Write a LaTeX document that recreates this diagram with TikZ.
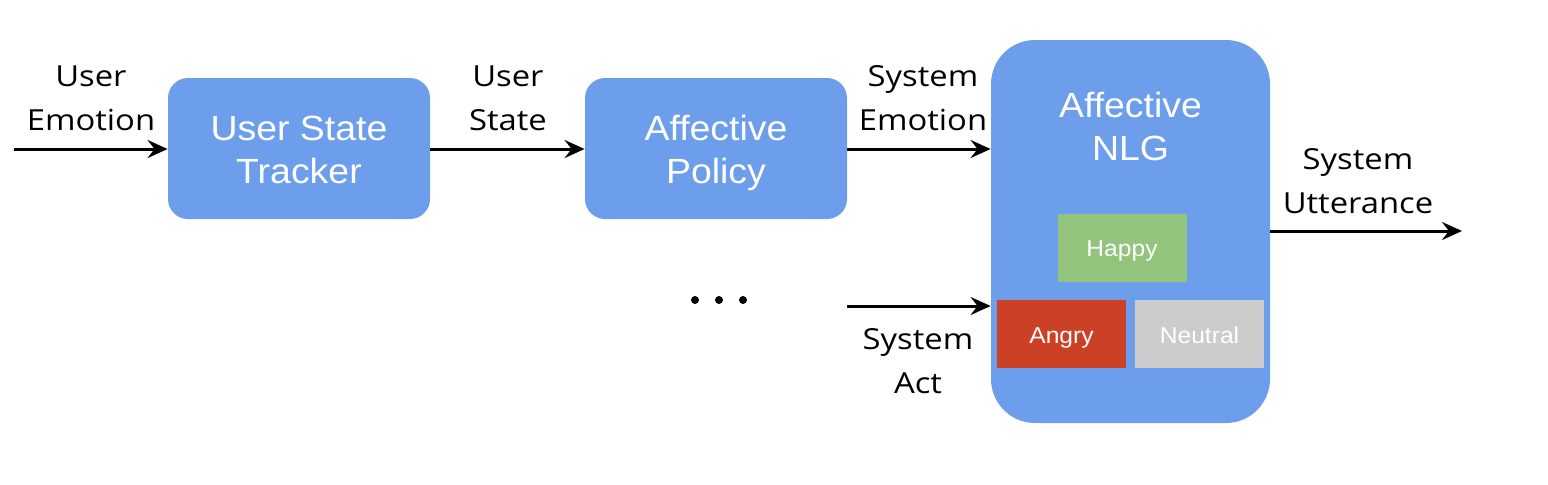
\documentclass[tikz,border=0pt]{standalone}
\usepackage{fontspec}
\setmainfont{Open Sans}
\newfontfamily\lblfont[FakeStretch=1.13]{Open Sans}
\newfontfamily\boxfont[FakeStretch=1.07]{Liberation Sans}
\usetikzlibrary{positioning, arrows.meta}
\definecolor{nlgblue}{HTML}{6D9EEB}
\definecolor{happygreen}{HTML}{93C47D}
\definecolor{angryred}{HTML}{CC4125}
\definecolor{neutralgray}{HTML}{CCCCCC}
\newcommand\mstrut{\rule[-3.9pt]{0pt}{21.4pt}}
\newcommand\estrut{\rule[-2.9pt]{0pt}{14.9pt}}
\tikzset{
  module/.style={rounded corners=10pt, fill=nlgblue, text=white, align=center,
    font=\boxfont\fontsize{17.5}{21.5}\selectfont, inner sep=0pt},
  emo/.style={text=white, align=center, inner sep=0pt, minimum width=64.5pt,
    minimum height=34pt, font=\boxfont\fontsize{11.5}{14}\selectfont},
  lbl/.style={align=center, font=\lblfont\fontsize{14.5}{22}\selectfont, inner sep=0pt},
  flow/.style={line width=1.5pt, -{Stealth[length=10pt, width=9pt, inset=3.5pt]}},
}
\begin{document}
\begin{tikzpicture}[x=0.5pt, y=-0.5pt]
  \useasboundingbox (0,0) rectangle (1548,484);

  % modules
  \node[module, minimum width=131pt, minimum height=70.5pt] (ust) at (299,148.5) {\mstrut User State\\\mstrut Tracker};
  \node[module, minimum width=131pt, minimum height=70.5pt] (pol) at (716,148.5) {\mstrut Affective\\\mstrut Policy};
  \node[module, rounded corners=22pt, minimum width=139.5pt, minimum height=191.5pt] (nlg) at (1130.5,231.5) {};
  \node[module] (nlgtext) at (1130.5,125.5) {\mstrut Affective\\\mstrut NLG};

  % emotions inside the generator
  \node[emo, fill=happygreen] (happy) at (1122,247.5) {\estrut Happy};
  \node[emo, fill=angryred] (angry) at (1061.5,334) {\estrut Angry};
  \node[emo, fill=neutralgray] (neutral) at (1199.5,334) {\estrut Neutral};

  % free ends
  \coordinate (uein) at (14,149);
  \coordinate (actin) at (847,306);
  \coordinate (uttout) at (1462,231);

  % flows
  \draw[flow] (uein) -- (ust.west |- uein);
  \draw[flow] (ust.east |- 0,149) -- (pol.west |- 0,149);
  \draw[flow] (pol.east |- 0,149) -- (nlg.west |- 0,149);
  \draw[flow] (actin) -- (nlg.west |- actin);
  \draw[flow] (nlg.east |- uttout) -- (uttout);

  % labels
  \node[lbl] (uelbl) at (91,98) {User\\Emotion};
  \node[lbl] (uslbl) at (508,98) {User\\State};
  \node[lbl] (selbl) at (923,98) {System\\Emotion};
  \node[lbl] (salbl) at (918,361) {System\\Act};
  \node[lbl] (sulbl) at (1358,181) {System\\Utterance};

  % dots
  \foreach \dx [count=\i] in {695,719,743}
    \fill (\dx,300) circle (4);
\end{tikzpicture}
\end{document}
